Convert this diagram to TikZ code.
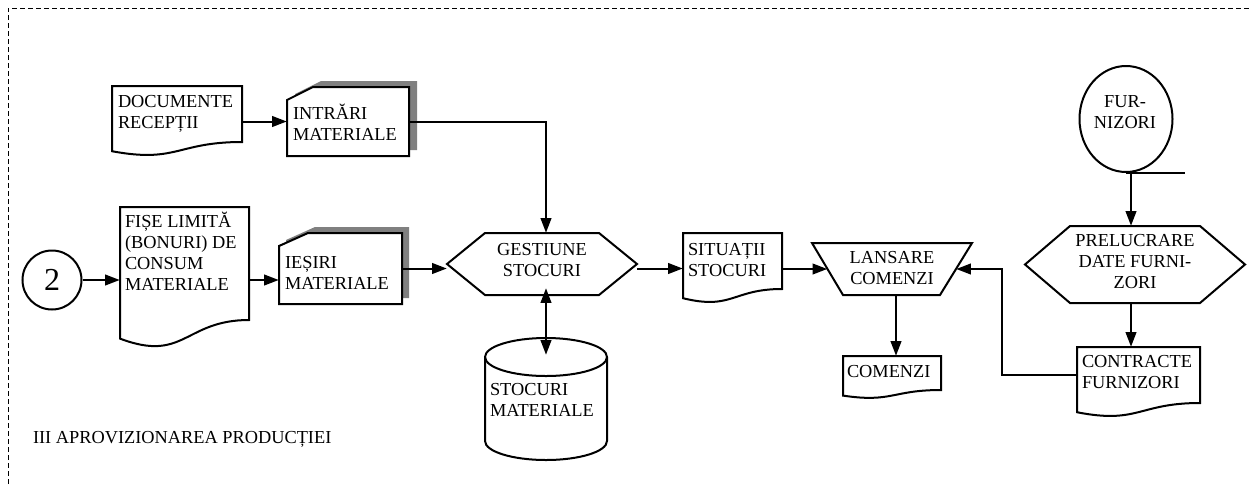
\documentclass[tikz,border=0pt]{standalone}
\usepackage{fontspec}
\setmainfont{Liberation Serif}
\usetikzlibrary{arrows.meta,fit,shapes.geometric}

% document symbol with a wavy lower edge: name, left, top, right, lower-right corner
\newcommand\flowdoc[5]{%
  \pgfmathsetmacro\docH{(#5-#3)/0.802}%
  \pgfmathsetmacro\docYl{#5+0.132*\docH}%
  \pgfmathsetmacro\docCy{#5+0.3055*\docH}%
  \pgfmathsetmacro\docMx{(#2+#4)/2}%
  \draw[outline] (#2,#3) -- (#4,#3) -- (#4,#5)
     .. controls (\docMx,#5) and (\docMx,\docCy) .. (#2,\docYl) -- cycle;
  \node[fit={(#2,#3) (#4,#5)}, inner sep=0pt] (#1) {};
}
% punched-card symbol with a drop shadow: name, left, top, right, bottom,
% corner cut x, corner cut y, shadow shift right, shadow shift up
\newcommand\flowcard[9]{%
  \fill[shadowgray] (#2+#8,#3+#7-#9) -- (#2+#6+#8,#3-#9) -- (#4+#8,#3-#9)
     -- (#4+#8,#5-#9) -- (#2+#8,#5-#9) -- cycle;
  \draw[outline] (#2,#3+#7) -- (#2+#6,#3) -- (#4,#3) -- (#4,#5) -- (#2,#5) -- cycle;
  \node[fit={(#2,#3) (#4,#5)}, inner sep=0pt] (#1) {};
}
% preparation (hexagon) symbol: name, left, top, right, bottom, inset
\newcommand\flowhex[6]{%
  \draw[outline] (#2,{(#3+#5)/2}) -- (#2+#6,#3) -- (#4-#6,#3) -- (#4,{(#3+#5)/2})
     -- (#4-#6,#5) -- (#2+#6,#5) -- cycle;
  \node[fit={(#2,#3) (#4,#5)}, inner sep=0pt] (#1) {};
}

\begin{document}
\begin{tikzpicture}[x=0.75pt, y=-0.75pt,
  >={Triangle[length=11pt,width=8pt]},
  outline/.style={draw=black, line width=1.5pt, fill=white, line join=miter},
  shadowgray/.style={fill=black!50},
  frameline/.style={draw=black, line width=0.75pt, dash pattern=on 3.75pt off 2.25pt},
  flow/.style={line width=1.5pt, ->},
  link/.style={line width=1.5pt},
  lbl/.style={inner sep=0pt, outer sep=0pt, align=left, anchor=north west,
    font=\fontsize{13.75}{15.75}\selectfont},
  clbl/.style={inner sep=0pt, outer sep=0pt, align=center, anchor=north,
    font=\fontsize{13.75}{15.75}\selectfont}
]
\useasboundingbox (0,0) rectangle (1252,486);

% dashed frame of the section
\draw[frameline] (8,500) -- (8,8) -- (1265,8);

% ---- symbols ----
\flowdoc{docrec}{112}{86}{242}{142}
\flowcard{intrari}{287}{87}{409}{156}{26}{13}{8}{6}
\flowdoc{fise}{120}{207}{249}{320}
\flowcard{iesiri}{279}{233}{402}{304}{29}{13}{7}{6}
\flowhex{gest}{447}{233}{637}{295}{38}
\flowdoc{situatii}{683}{233}{782}{289}
\flowdoc{comenzi}{843}{356}{941}{390}
\flowdoc{contr}{1077}{347}{1200}{403}
\flowhex{prel}{1025}{226}{1245}{303}{45}

% manual operation (trapezoid)
\draw[outline] (812,243) -- (972,243) -- (940,295) -- (843,295) -- cycle;
\node[fit={(812,243) (972,295)}, inner sep=0pt] (lansare) {};

% stored data (cylinder)
\draw[outline] (485,357) -- (485,441)
  arc[start angle=180, end angle=360, x radius=45.75pt, y radius=14.25pt]
  -- (607,357)
  arc[start angle=0, end angle=180, x radius=45.75pt, y radius=14.25pt] -- cycle;
\draw[link] (485,357)
  arc[start angle=180, end angle=360, x radius=45.75pt, y radius=14.25pt];
\node[fit={(485,338) (607,460)}, inner sep=0pt] (stoc) {};

% connector and terminal
\node[draw, circle, line width=1.5pt, fill=white, minimum size=44.25pt, inner sep=0pt,
  font=\fontsize{24}{24}\selectfont] (c2) at (52,280) {2};
\node[draw, ellipse, line width=1.5pt, fill=white, minimum width=69.75pt,
  minimum height=79.5pt, inner sep=0pt] (furn) at (1126,119) {};

% ---- texts ----
\node[lbl] (tdocrec) at (118,92.3) {\strut DOCUMENTE\\RECEPȚII};
\node[lbl] (tintrari) at (293,104.3) {\strut INTRĂRI\\MATERIALE};
\node[lbl] (tfise) at (125,212.3) {\strut FIȘE LIMITĂ\\(BONURI) DE\\CONSUM\\MATERIALE};
\node[lbl] (tiesiri) at (285,253.3) {\strut IEȘIRI\\MATERIALE};
\node[clbl] (tgest) at (542,240.3) {\strut GESTIUNE\\STOCURI};
\node[lbl] (tstoc) at (490,380.3) {\strut STOCURI\\MATERIALE};
\node[lbl] (tsituatii) at (688,240.3) {\strut SITUAȚII\\STOCURI};
\node[clbl] (tlansare) at (892,248.3) {\strut LANSARE\\COMENZI};
\node[lbl] (tcomenzi) at (847,362.3) {\strut COMENZI};
\node[lbl] (tcontr) at (1082,352.3) {\strut CONTRACTE\\FURNIZORI};
\node[clbl] (tprel) at (1135,231.3) {\strut PRELUCRARE\\DATE FURNI-\\ZORI};
\node[clbl] (tfurn) at (1125,92.3) {\strut FUR-\\NIZORI};
\node[lbl] (title) at (33,428.3) {\strut III APROVIZIONAREA PRODUCȚIEI};

% ---- connectors ----
\draw[flow] (docrec.east |- intrari.west) -- (intrari.west);
\draw[flow] (intrari.east) -| (stoc.north |- gest.north);
\draw[flow] (c2.east) -- (c2.east -| fise.west);
\draw[flow] (fise.east |- c2.east) -- (iesiri.west |- c2.east);
\draw[flow] (iesiri.east) -- (iesiri.east -| gest.west);
\draw[flow] (gest.east |- iesiri.east) -- (situatii.west |- iesiri.east);

\coordinate (gestB) at ([yshift=5.25pt]gest.south);
\coordinate (stocT) at ([yshift=-12.75pt]stoc.north);
\draw[link, <->] (stocT |- gestB) -- (stocT);

\coordinate (lanL) at ([xshift=11.6pt]lansare.west);
\coordinate (lanR) at ([xshift=-12pt]lansare.east);
\coordinate (lanB) at ([xshift=3pt]lansare.south);
\draw[flow] (situatii.east |- lanL) -- (lanL);
\draw[flow] (contr.west) -- ++(-75,0) |- (lanR);
\draw[flow] (lanB) -- (lanB |- comenzi.north);

\draw[link] (furn.south) -- ++(59,0);
\coordinate (furnB) at ([xshift=3.75pt]furn.south);
\draw[flow] (furnB) -- (furnB |- prel.north);
\coordinate (prelB) at ([xshift=-3pt]prel.south);
\draw[flow] (prelB) -- (prelB |- contr.north);
\end{tikzpicture}
\end{document}
